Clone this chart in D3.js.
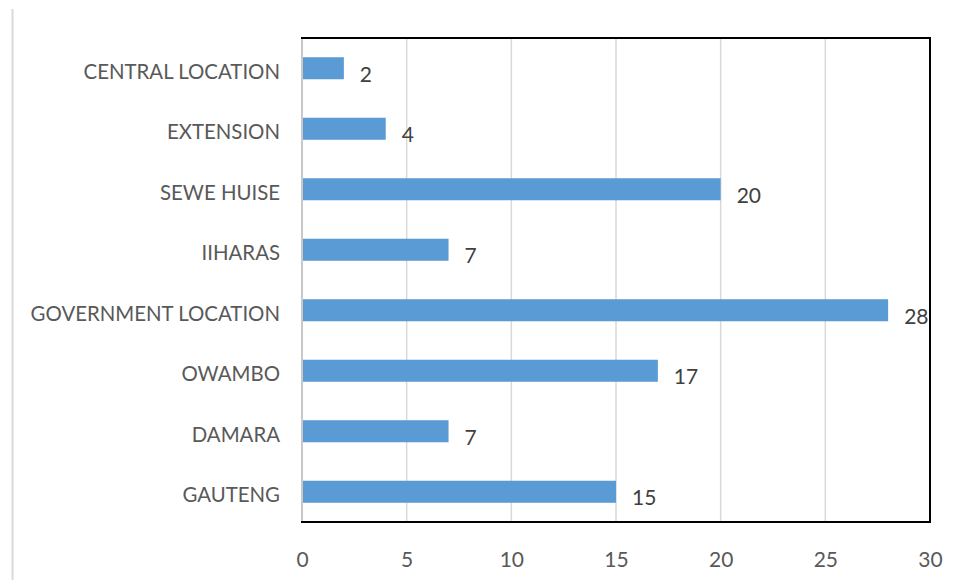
<!DOCTYPE html>
<html>
<head>
<meta charset="utf-8">
<script src="https://cdn.jsdelivr.net/npm/d3@7"></script>
<style>
  html, body { margin: 0; padding: 0; background: #fff; }
  svg { display: block; font-family: Lato, "Open Sans", sans-serif; }
</style>
</head>
<body>
<svg id="chart" width="960" height="580"></svg>
<script>
// Locations, listed top to bottom
const categories = [
  "CENTRAL LOCATION", "EXTENSION", "SEWE HUISE", "IIHARAS",
  "GOVERNMENT LOCATION", "OWAMBO", "DAMARA", "GAUTENG"
];
// Count per location
const values = [2, 4, 20, 7, 28, 17, 7, 15];
// Value axis ticks
const xTicks = [0, 5, 10, 15, 20, 25, 30];

const svg = d3.select("#chart");
const plot = { left: 302, right: 930, top: 38, bottom: 522 };

const x = d3.scaleLinear().domain([0, 30]).range([plot.left, plot.right]);
const y = d3.scaleBand().domain(categories).range([plot.top, plot.bottom])
  .paddingInner(0.636).paddingOuter(0.318);

// Outer chart-area edge on the left
svg.append("line")
  .attr("x1", 12.5).attr("x2", 12.5).attr("y1", 9).attr("y2", 580)
  .attr("stroke", "#d9d9d9").attr("stroke-width", 2);

// Vertical gridlines
svg.append("g").selectAll("line").data(xTicks).join("line")
  .attr("x1", d => x(d)).attr("x2", d => x(d))
  .attr("y1", plot.top).attr("y2", plot.bottom)
  .attr("stroke", "#d9d9d9").attr("stroke-width", 1.5);

// Bars
svg.append("g").selectAll("rect").data(values).join("rect")
  .attr("x", x(0) + 1)
  .attr("y", (d, i) => y(categories[i]))
  .attr("width", d => x(d) - x(0) - 1)
  .attr("height", y.bandwidth())
  .attr("fill", "#5b9bd5");

// Plot frame
svg.append("rect")
  .attr("x", plot.left).attr("y", plot.top)
  .attr("width", plot.right - plot.left).attr("height", plot.bottom - plot.top)
  .attr("fill", "none").attr("stroke", "#000").attr("stroke-width", 2);
svg.append("line")
  .attr("x1", plot.left).attr("x2", plot.left)
  .attr("y1", plot.top + 1).attr("y2", plot.bottom - 1)
  .attr("stroke", "#c8c8c8").attr("stroke-width", 2);

// Value labels
svg.append("g").selectAll("text").data(values).join("text")
  .attr("x", d => x(d) + 16)
  .attr("y", (d, i) => y(categories[i]) + y.bandwidth() / 2 + 6)
  .attr("dy", "0.35em")
  .attr("fill", "#404040")
  .attr("font-size", 21)
  .text(d => d);

// Category axis
const yAxis = d3.axisLeft(y).tickSize(0).tickPadding(22);
const gy = svg.append("g").attr("transform", `translate(${plot.left},4)`).call(yAxis);
gy.select(".domain").remove();
gy.selectAll("text").attr("fill", "#595959").attr("font-size", 20.4)
  .attr("font-family", "Lato, 'Open Sans', sans-serif");

// Value axis
const xAxis = d3.axisBottom(x).tickValues(xTicks).tickSize(0).tickPadding(30);
const gx = svg.append("g").attr("transform", `translate(0,${plot.bottom})`).call(xAxis);
gx.select(".domain").remove();
gx.selectAll("text").attr("fill", "#595959").attr("font-size", 21)
  .attr("font-family", "Lato, 'Open Sans', sans-serif");
</script>
</body>
</html>
